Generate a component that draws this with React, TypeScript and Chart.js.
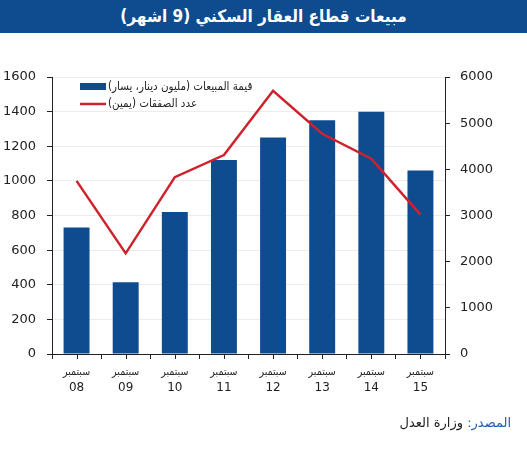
import React, { useEffect, useRef } from "react";
import { Chart, registerables } from "chart.js";

Chart.register(...registerables);

const categories = ["08", "09", "10", "11", "12", "13", "14", "15"];
const monthLabel = "سبتمبر";
const salesValue = [730, 415, 820, 1120, 1250, 1350, 1400, 1060];
const dealsCount = [3750, 2180, 3830, 4310, 5700, 4770, 4230, 3020];
const salesLabel = "قيمة المبيعات (مليون دينار، يسار)";
const dealsLabel = "عدد الصفقات (يمين)";
const titleText = "مبيعات قطاع العقار السكني (9 اشهر)";
const sourceLabel = "المصدر:";
const sourceText = " وزارة العدل";

const BLUE = "#0e4c8f";
const RED = "#d0222c";
const FONT = '"DejaVu Sans", sans-serif';
const FONT_C = '"DejaVu Sans Condensed", "DejaVu Sans", sans-serif';

const customPlugin = {
  id: "custom",
  afterDraw(chart: any) {
    const ctx = chart.ctx;
    const area = chart.chartArea;
    const x = chart.scales.x;
    ctx.save();
    ctx.strokeStyle = "#222";
    ctx.lineWidth = 1;
    categories.forEach((_, i) => {
      const px = Math.round(x.getPixelForValue(i)) + 0.5;
      ctx.beginPath();
      ctx.moveTo(px, area.bottom);
      ctx.lineTo(px, area.bottom + 5);
      ctx.stroke();
    });
    ctx.fillStyle = "#222";
    ctx.textAlign = "center";
    ctx.textBaseline = "middle";
    categories.forEach((c, i) => {
      const px = x.getPixelForValue(i);
      ctx.font = `10.5px ${FONT_C}`;
      ctx.fillText(monthLabel, px, area.bottom + 18);
      ctx.font = `12px ${FONT}`;
      ctx.fillText(c, px, area.bottom + 34);
    });
    const lx = area.left + 28;
    const ds = chart.data.datasets;
    ctx.fillStyle = ds[0].backgroundColor;
    ctx.fillRect(lx, area.top + 6, 26, 7);
    ctx.strokeStyle = ds[1].borderColor;
    ctx.lineWidth = 2.5;
    ctx.beginPath();
    ctx.moveTo(lx, area.top + 27);
    ctx.lineTo(lx + 26, area.top + 27);
    ctx.stroke();
    ctx.fillStyle = "#222";
    ctx.font = `11.5px ${FONT_C}`;
    ctx.textAlign = "left";
    (ctx as any).direction = "rtl";
    ctx.fillText(ds[0].label, lx + 28, area.top + 10);
    ctx.fillText(ds[1].label, lx + 28, area.top + 27);
    ctx.restore();
  },
};

export default function App() {
  const ref = useRef<HTMLCanvasElement>(null);
  useEffect(() => {
    document.body.style.margin = "0";
    const chart = new Chart(ref.current!, {
      type: "bar",
      data: {
        labels: categories,
        datasets: [
          {
            type: "bar",
            label: salesLabel,
            data: salesValue,
            backgroundColor: BLUE,
            yAxisID: "y",
            barPercentage: 0.66,
            categoryPercentage: 0.8,
            order: 2,
          },
          {
            type: "line",
            label: dealsLabel,
            data: dealsCount,
            borderColor: RED,
            backgroundColor: RED,
            borderWidth: 2.5,
            pointRadius: 0,
            tension: 0,
            yAxisID: "y1",
            order: 1,
          } as any,
        ],
      },
      options: {
        animation: false,
        responsive: false,
        maintainAspectRatio: false,
        layout: { padding: { left: 3, right: 34, top: 77, bottom: 91 } },
        plugins: { legend: { display: false }, tooltip: { enabled: false } },
        scales: {
          x: {
            offset: true,
            grid: {
              offset: true,
              drawOnChartArea: false,
              tickLength: 5,
              tickColor: "#222",
            },
            border: { color: "#222", width: 1 },
            ticks: { display: false },
          },
          y: {
            position: "left",
            min: 0,
            max: 1600,
            afterFit: (s: any) => {
              s.width = 49;
            },
            ticks: {
              stepSize: 200,
              padding: 11,
              color: "#222",
              font: { family: FONT, size: 13 },
              callback: (v: any) => String(v),
            },
            grid: { color: "#ececec", tickLength: 5, tickColor: "#222" },
            border: { color: "#222", width: 1 },
          },
          y1: {
            position: "right",
            min: 0,
            max: 6000,
            afterFit: (s: any) => {
              s.width = 48;
            },
            ticks: {
              stepSize: 1000,
              padding: 10,
              color: "#222",
              font: { family: FONT, size: 13 },
              callback: (v: any) => String(v),
            },
            grid: { drawOnChartArea: false, tickLength: 5, tickColor: "#222" },
            border: { color: "#222", width: 1 },
          },
        },
      },
      plugins: [customPlugin],
    });
    return () => chart.destroy();
  }, []);

  return (
    <div style={{ position: "relative", width: 527, height: 450, background: "#fff", overflow: "hidden" }}>
      <canvas ref={ref} width={527} height={450} style={{ position: "absolute", left: 0, top: 0 }} />
      <div
        dir="rtl"
        style={{
          position: "absolute",
          left: 0,
          top: 0,
          width: 527,
          height: 33,
          background: BLUE,
          color: "#fff",
          fontFamily: FONT_C,
          fontWeight: "bold",
          fontSize: 17,
          lineHeight: "33px",
          textAlign: "center",
        }}
      >
        {titleText}
      </div>
      <div
        dir="rtl"
        style={{
          position: "absolute",
          right: 16,
          top: 415,
          fontFamily: FONT,
          fontSize: 13,
          color: "#222",
        }}
      >
        <span style={{ color: "#1d5fae" }}>{sourceLabel}</span>
        {sourceText}
      </div>
    </div>
  );
}
